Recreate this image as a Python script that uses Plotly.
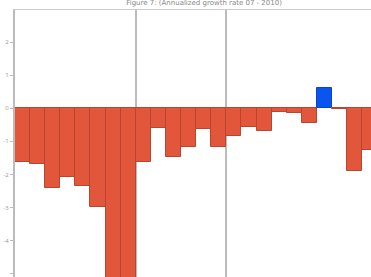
import plotly.graph_objects as go

# Data (values in axis units)
periods = list(range(1, 25))
values = [-1.63, -1.67, -2.42, -2.09, -2.36, -2.99, -5.6, -5.6,
          -1.63, -0.60, -1.48, -1.18, -0.64, -1.18, -0.85, -0.57,
          -0.69, -0.11, -0.14, -0.45, 0.60, -0.03, -1.90, -1.27]
separators = [8.5, 14.5]
y_ticks = [3, 2, 1, 0, -1, -2, -3, -4, -5]
y_tick_labels = ["3", "2", "1", "0", "-1", "-2", "-3", "-4", "-5"]
title_text = "Figure 7: (Annualized growth rate 07 - 2010)"

colors = ["#0A55F0" if v > 0 else "#E2573B" for v in values]
line_colors = ["#0A45C8" if v > 0 else "#B8462E" for v in values]

fig = go.Figure(go.Bar(
    x=periods, y=values,
    marker=dict(color=colors, line=dict(color=line_colors, width=1)),
))

fig.update_layout(
    width=371, height=277,
    margin=dict(l=15, r=0, t=10, b=0, pad=0),
    paper_bgcolor="white", plot_bgcolor="white",
    bargap=0,
    showlegend=False,
    title=dict(text=title_text, x=0.55, xanchor="center",
               y=1, yref="container", yanchor="top",
               pad=dict(t=0, b=0),
               font=dict(size=7, color="#888888", family="DejaVu Sans")),
)
fig.update_xaxes(
    range=[0.5, 24.08],
    tickvals=separators, showticklabels=False, ticks="",
    showgrid=True, gridcolor="#BBBBBB", gridwidth=1.5,
    zeroline=False, showline=True, linecolor="#CCCCCC", mirror=True,
    automargin=False,
)
fig.update_yaxes(
    range=[-5.1, 2.97],
    tickvals=y_ticks, ticktext=y_tick_labels,
    ticks="outside", ticklen=3, tickcolor="#BBBBBB",
    tickfont=dict(size=6, color="#999999"),
    showgrid=False, zeroline=False,
    showline=True, linecolor="#BBBBBB", linewidth=2,
    automargin=False,
)

fig.write_html("out.html",
               config={"displayModeBar": False},
               post_script="document.body.style.margin='0';document.body.style.overflow='hidden';")
